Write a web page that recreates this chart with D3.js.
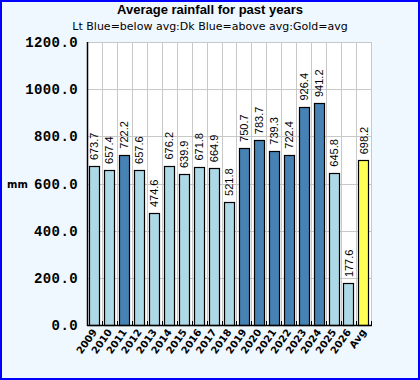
<!DOCTYPE html>
<html>
<head>
<meta charset="utf-8">
<script src="https://cdn.jsdelivr.net/npm/d3@7"></script>
<style>
  body { margin: 0; padding: 0; }
  svg { display: block; }
</style>
</head>
<body>
<div id="chart"></div>
<script>
const years = ["2009","2010","2011","2012","2013","2014","2015","2016","2017","2018",
  "2019","2020","2021","2022","2023","2024","2025","2026","Avg"]
const rainfall = [673.7, 657.4, 722.2, 657.6, 474.6, 676.2, 639.9, 671.8, 664.9, 521.8,
  750.7, 783.7, 739.3, 722.4, 926.4, 941.2, 645.8, 177.6, 698.2]
const yTicks = [0, 200, 400, 600, 800, 1000, 1200]

const avg = rainfall[rainfall.length - 1]
const colors = {below: "#add8e6", above: "#4682b4", avg: "#ffff55"}

const W = 420, H = 380
const margin = {top: 42, right: 49, bottom: 55, left: 87}

const svg = d3.select("#chart")
  .append("svg")
  .attr("width", W)
  .attr("height", H)

// background + border
svg.append("rect")
  .attr("x", 1).attr("y", 1)
  .attr("width", W - 2).attr("height", H - 2)
  .attr("fill", "#f0f8ff")
  .attr("stroke", "#0000ff")
  .attr("stroke-width", 2)

const x = d3.scaleBand()
  .domain(years)
  .range([margin.left, W - margin.right])

const y = d3.scaleLinear()
  .domain([0, 1200])
  .range([H - margin.bottom, margin.top])

// plot area
svg.append("rect")
  .attr("x", margin.left).attr("y", margin.top)
  .attr("width", W - margin.left - margin.right)
  .attr("height", H - margin.top - margin.bottom)
  .attr("fill", "#fff")

// grid
svg.append("g")
  .selectAll("line")
  .data(yTicks)
  .join("line")
  .attr("x1", margin.left).attr("x2", W - margin.right)
  .attr("y1", d => Math.round(y(d)) + 0.5).attr("y2", d => Math.round(y(d)) + 0.5)
  .attr("stroke", "#c8c8c8")

const bounds = years.map(d => x(d)).concat([x(years[years.length - 1]) + x.bandwidth()])
svg.append("g")
  .selectAll("line")
  .data(bounds)
  .join("line")
  .attr("x1", d => Math.round(d) + 0.5).attr("x2", d => Math.round(d) + 0.5)
  .attr("y1", margin.top).attr("y2", H - margin.bottom)
  .attr("stroke", "#c8c8c8")

// small inner ticks at bottom
svg.append("g")
  .selectAll("line")
  .data(bounds)
  .join("line")
  .attr("x1", d => Math.round(d) + 0.5).attr("x2", d => Math.round(d) + 0.5)
  .attr("y1", H - margin.bottom - 4).attr("y2", H - margin.bottom)
  .attr("stroke", "#000")

// bars
const barW = x.bandwidth() * 0.68
svg.append("g")
  .selectAll("rect")
  .data(rainfall)
  .join("rect")
  .attr("x", (d, i) => Math.round(x(years[i]) + (x.bandwidth() - barW) / 2) + 0.5)
  .attr("y", d => Math.round(y(d)) + 0.5)
  .attr("width", Math.round(barW))
  .attr("height", d => Math.round(y(0)) - Math.round(y(d)))
  .attr("fill", (d, i) => i === rainfall.length - 1 ? colors.avg : (d > avg ? colors.above : colors.below))
  .attr("stroke", "#000")
  .attr("stroke-width", 1.2)

// value labels
svg.append("g")
  .selectAll("text")
  .data(rainfall)
  .join("text")
  .attr("transform", (d, i) => `translate(${x(years[i]) + x.bandwidth() / 2 + 4},${y(d) - 6}) rotate(-90)`)
  .attr("font-family", "Liberation Sans, Arial, sans-serif")
  .attr("font-size", 11)
  .attr("fill", "#000")
  .text(d => d.toFixed(1))

// axes lines
svg.append("line")
  .attr("x1", margin.left + 0.5).attr("x2", margin.left + 0.5)
  .attr("y1", margin.top).attr("y2", H - margin.bottom + 1)
  .attr("stroke", "#000").attr("stroke-width", 1.5)
svg.append("line")
  .attr("x1", margin.left).attr("x2", W - margin.right + 1)
  .attr("y1", H - margin.bottom + 0.5).attr("y2", H - margin.bottom + 0.5)
  .attr("stroke", "#000").attr("stroke-width", 1.5)

// y tick labels
svg.append("g")
  .selectAll("text")
  .data(yTicks)
  .join("text")
  .attr("x", margin.left - 9)
  .attr("y", d => y(d) + 5)
  .attr("text-anchor", "end")
  .attr("font-family", "Liberation Mono, DejaVu Sans Mono, monospace")
  .attr("font-weight", "bold")
  .attr("font-size", 14)
  .attr("letter-spacing", 0.4)
  .text(d => d3.format(".1f")(d))

// x tick labels
svg.append("g")
  .selectAll("text")
  .data(years)
  .join("text")
  .attr("transform", d => `translate(${x(d) + x.bandwidth() / 2 + 3},${H - margin.bottom + 7}) rotate(-55)`)
  .attr("text-anchor", "end")
  .attr("font-family", "DejaVu Sans, sans-serif")
  .attr("font-weight", "bold")
  .attr("font-size", 10)
  .text(d => d)

// axis title
svg.append("text")
  .attr("x", 7).attr("y", 188)
  .attr("font-family", "DejaVu Sans, sans-serif")
  .attr("font-weight", "bold")
  .attr("font-size", 10)
  .text("mm")

// titles
svg.append("text")
  .attr("x", 210).attr("y", 14)
  .attr("text-anchor", "middle")
  .attr("font-family", "Liberation Sans, Arial, sans-serif")
  .attr("font-weight", "bold")
  .attr("font-size", 13)
  .text("Average rainfall for past years")

svg.append("text")
  .attr("x", 210).attr("y", 30)
  .attr("text-anchor", "middle")
  .attr("font-family", "DejaVu Sans, sans-serif")
  .attr("font-size", 11)
  .text("Lt Blue=below avg:Dk Blue=above avg:Gold=avg")
</script>
</body>
</html>
